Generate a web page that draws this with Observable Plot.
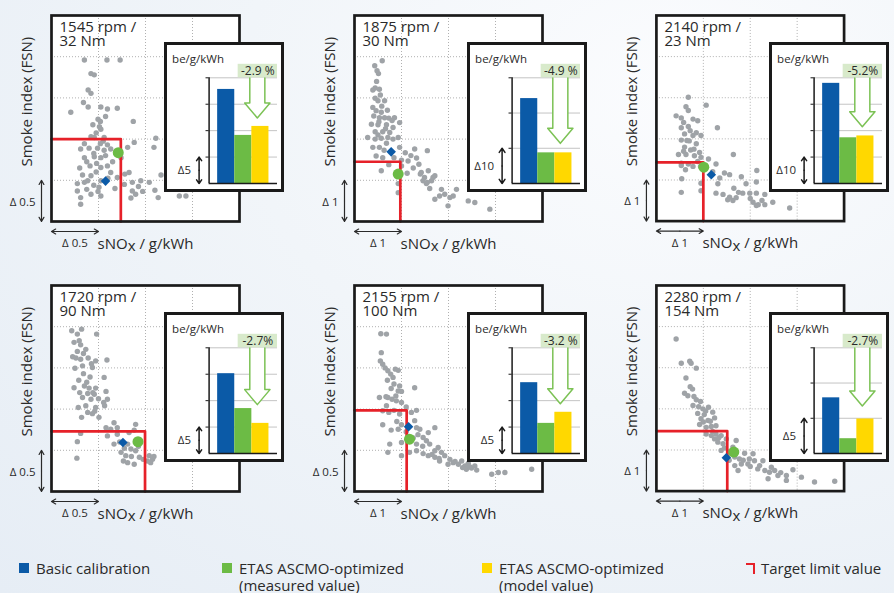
<!DOCTYPE html>
<html>
<head>
<meta charset="utf-8">
<script src="https://cdn.jsdelivr.net/npm/d3@7"></script>
<script src="https://cdn.jsdelivr.net/npm/@observablehq/plot@0.6"></script>
<style>
  html, body { margin: 0; padding: 0; }
  body {
    width: 894px; height: 593px; overflow: hidden; position: relative;
    font-family: "Open Sans", "Noto Sans", sans-serif; color: #2a2a2a;
    background: radial-gradient(ellipse at 75% 15%, #fbfcfe 0%, #f1f5f9 45%, #e6edf5 100%);
  }
  .abs { position: absolute; }
  .inset { position: absolute; box-sizing: border-box; width: 120px; height: 150px;
           border: 3px solid #1a1a1a; background: #fff; }
  .lg { position: absolute; font-size: 15px; line-height: 17px; color: #2a2a2a; white-space: nowrap; }
  .sw { position: absolute; width: 10px; height: 10px; }
</style>
</head>
<body>
<script>
// ---------------- DATA ----------------
// Scatter values are in grid units of each panel (x: 0..4, y: 0..5);
// one grid unit equals the "Δ" value printed beside the axis.
const operatingPoints = ["1545 rpm /\n32 Nm", "1875 rpm /\n30 Nm", "2140 rpm /\n23 Nm",
                         "1720 rpm /\n90 Nm", "2155 rpm /\n100 Nm", "2280 rpm /\n154 Nm"];
const deltaXLabels = ["Δ 0.5", "Δ 1", "Δ 1", "Δ 0.5", "Δ 1", "Δ 1"];
const deltaYLabels = ["Δ 0.5", "Δ 1", "Δ 1", "Δ 0.5", "Δ 0.5", "Δ 1"];

const variants1545 = [[0.70,3.92],[1.18,3.92],[1.46,3.92],[0.84,3.59],[0.91,3.56],[0.78,3.19],[0.84,3.11],[0.41,2.65],[0.68,2.89],[0.78,2.78],[1.05,2.78],[1.19,2.73],[1.40,2.75],[0.99,2.48],[1.04,2.43],[1.74,2.43],[1.05,2.24],[1.02,2.30],[0.84,2.06],[0.70,1.89],[1.04,1.89],[1.19,1.86],[0.98,1.78],[0.80,1.78],[1.12,1.73],[1.26,1.76],[1.76,1.92],[1.62,1.80],[2.22,2.02],[2.18,1.80],[0.70,1.55],[0.91,1.57],[1.05,1.55],[0.96,1.41],[0.82,1.35],[1.19,1.35],[1.05,1.31],[0.66,1.13],[0.84,1.11],[1.56,1.15],[1.65,1.19],[1.40,1.07],[1.72,0.95],[1.90,0.99],[2.08,0.95],[2.33,1.13],[0.55,0.74],[0.75,0.78],[1.01,0.83],[0.99,0.73],[0.62,0.58],[0.84,0.66],[0.62,0.42],[1.05,0.62],[1.72,0.74],[1.79,0.66],[1.69,0.57],[1.94,0.73],[2.20,0.76],[2.27,0.58],[2.72,0.62],[2.86,0.62],[1.05,0.99],[0.55,0.92],[0.77,0.99],[1.26,1.19],[0.62,1.76],[0.91,2.04],[1.48,1.55],[1.12,2.04],
  [0.88,2.35],[1.15,2.55],[0.95,2.15],[1.10,1.95],[0.90,1.65],[1.15,1.60],[0.75,1.45],[1.30,1.45],[0.95,1.20],[1.20,1.05],[0.70,0.95],[0.90,0.88],[1.35,0.80],[0.60,1.30],[1.55,0.90],[1.85,0.85]];
const variants1875 = [[0.59,3.90],[0.43,3.78],[0.48,3.66],[0.51,3.59],[0.44,3.24],[0.53,3.21],[0.39,3.19],[0.55,3.07],[0.44,2.99],[0.50,2.93],[0.64,2.93],[0.39,2.77],[0.46,2.69],[0.57,2.65],[0.41,2.56],[0.53,2.52],[0.64,2.52],[0.73,2.51],[0.85,2.52],[0.96,2.40],[0.36,2.36],[0.50,2.35],[0.68,2.35],[0.82,2.28],[0.44,2.18],[0.60,2.18],[0.75,2.16],[0.28,2.04],[0.44,2.00],[0.57,2.02],[0.71,2.04],[0.93,2.04],[0.39,1.80],[0.53,1.80],[0.63,1.73],[0.96,1.80],[1.08,1.67],[1.28,1.76],[1.55,1.72],[0.46,1.59],[0.60,1.55],[0.84,1.55],[1.00,1.49],[1.14,1.47],[1.32,1.54],[1.37,1.39],[0.73,1.38],[1.00,1.35],[0.57,1.23],[1.12,1.17],[1.42,1.19],[1.57,1.23],[1.71,1.11],[1.49,1.07],[1.64,0.99],[1.53,0.92],[1.46,0.99],[0.93,0.92],[0.93,0.70],[1.85,0.78],[1.92,0.66],[1.81,0.62],[1.71,0.54],[1.99,0.38],[2.17,0.78],[2.42,0.50],[2.56,0.46],[2.88,0.30],[2.03,0.58],[1.67,1.07],
  [0.47,3.40],[0.58,2.80],[0.70,2.70],[0.52,2.42],[0.80,2.45],[0.66,2.25],[0.50,2.10],[0.82,2.00],[0.68,1.90],[1.20,1.60],[1.25,1.30],[1.40,1.15],[1.55,0.95],[1.60,0.80],[2.10,0.62]];
const variants2140 = [[0.68,3.01],[0.63,2.78],[0.68,2.69],[1.06,2.82],[0.42,2.56],[0.53,2.51],[0.78,2.48],[0.88,2.44],[0.53,2.27],[0.68,2.30],[1.30,2.27],[0.60,2.12],[0.78,2.08],[0.95,2.08],[0.53,1.97],[0.65,1.96],[0.85,1.88],[0.60,1.80],[0.73,1.73],[0.92,1.67],[0.47,1.62],[0.63,1.62],[0.81,1.59],[0.95,1.55],[1.64,1.62],[1.11,1.51],[0.53,1.41],[0.68,1.39],[1.27,1.39],[0.53,1.35],[0.78,1.33],[0.94,1.33],[1.45,1.17],[1.56,1.13],[1.81,1.08],[2.14,1.23],[0.54,1.03],[0.95,0.92],[1.31,0.91],[1.91,0.91],[2.13,0.95],[0.95,0.74],[0.53,0.70],[1.27,0.68],[1.42,0.65],[1.56,0.58],[1.52,0.52],[1.70,0.57],[1.84,0.68],[1.99,0.68],[2.13,0.68],[2.31,0.65],[2.06,0.46],[2.17,0.40],[2.31,0.40],[2.48,0.46],[2.13,0.38],[2.84,0.32],[1.63,0.50],
  [0.58,2.40],[0.72,2.20],[0.85,2.15],[0.70,1.95],[0.80,1.75],[0.58,1.70],[0.88,1.45],[0.62,1.25],[1.20,1.20],[1.35,1.05],[1.65,0.80],[1.75,0.70],[2.00,0.55],[2.25,0.50]];
const variants1720 = [[0.43,3.90],[0.55,3.82],[0.64,3.94],[0.96,3.82],[0.48,3.62],[0.59,3.66],[0.62,3.56],[0.73,3.45],[0.45,3.27],[0.52,3.24],[0.62,3.21],[0.78,3.24],[0.94,3.17],[1.18,3.19],[0.50,2.99],[0.66,3.05],[0.87,3.01],[0.68,2.86],[0.82,2.78],[1.12,2.77],[0.48,2.52],[0.70,2.56],[0.80,2.51],[0.94,2.51],[0.77,2.38],[0.91,2.36],[1.16,2.43],[0.66,2.28],[0.84,2.24],[1.11,2.16],[1.19,2.24],[0.57,2.04],[0.73,2.08],[0.94,2.04],[1.13,2.08],[0.77,1.92],[0.87,1.89],[1.01,1.80],[0.64,1.80],[1.33,1.67],[1.16,1.55],[1.26,1.51],[1.40,1.55],[1.79,1.63],[0.62,1.41],[1.19,1.35],[1.40,1.39],[1.65,1.43],[1.76,1.49],[0.55,1.21],[1.33,1.15],[1.62,1.15],[1.69,1.03],[1.79,0.99],[1.48,0.95],[1.58,0.87],[1.87,0.83],[2.08,0.87],[2.15,0.78],[2.04,0.74],[1.53,0.74],[1.62,0.70],[1.76,0.66],[0.54,0.81],[2.11,0.70],
  [0.55,3.40],[0.68,3.35],[0.85,3.10],[0.58,2.70],[0.75,2.65],[0.88,2.40],[0.60,2.40],[1.00,2.25],[0.92,1.95],[1.45,1.20],[1.55,1.05],[1.70,0.85],[1.95,0.78],[2.18,0.85],[1.85,1.10]];
const variants2155 = [[0.56,3.83],[0.68,3.82],[0.57,3.37],[0.55,3.17],[0.60,3.09],[0.71,2.93],[0.87,2.97],[0.93,2.94],[0.77,2.85],[0.82,2.77],[0.70,2.70],[0.84,2.61],[0.96,2.56],[0.93,2.44],[1.00,2.43],[1.28,2.52],[0.53,2.28],[0.71,2.28],[0.80,2.24],[0.89,2.20],[1.00,2.16],[0.68,2.08],[0.60,1.96],[0.73,1.92],[0.84,1.97],[0.96,1.88],[1.21,1.92],[1.32,1.97],[0.60,1.62],[0.78,1.49],[0.93,1.51],[1.00,1.62],[1.28,1.72],[1.32,1.55],[1.39,1.51],[1.57,1.43],[1.71,1.55],[1.35,1.38],[1.46,1.31],[1.53,1.23],[0.75,1.15],[1.00,1.19],[1.32,1.15],[1.60,1.15],[1.78,1.07],[0.71,0.95],[1.17,0.95],[1.32,0.99],[1.46,0.92],[1.57,0.87],[1.71,0.99],[1.85,0.95],[1.92,0.87],[2.03,0.78],[2.14,0.73],[1.99,0.66],[2.21,0.66],[2.28,0.74],[2.35,0.62],[2.42,0.68],[2.49,0.57],[2.38,0.54],[2.56,0.62],[2.92,0.42],[3.06,0.46],[3.20,0.46],[3.77,0.54],[1.71,0.83],[1.81,0.74],[1.00,0.87],
  [0.65,3.00],[0.78,2.50],[0.88,2.32],[0.67,2.30],[1.10,2.05],[0.90,1.70],[1.10,1.45],[1.25,1.30],[1.45,1.10],[1.65,0.90],[1.80,0.80],[2.10,0.70],[2.30,0.58],[2.45,0.60],[2.60,0.52]];
const variants2280 = [[0.42,3.70],[0.53,3.11],[0.71,3.16],[0.74,3.11],[0.85,2.99],[0.63,2.75],[0.72,2.54],[0.77,2.48],[0.60,2.38],[0.67,2.32],[0.85,2.22],[0.94,2.18],[0.78,2.08],[0.99,2.00],[1.11,2.04],[0.88,1.89],[1.02,1.86],[1.20,1.92],[0.95,1.76],[1.10,1.72],[1.24,1.78],[0.92,1.62],[1.06,1.55],[1.17,1.57],[1.27,1.59],[1.06,1.39],[1.17,1.35],[1.27,1.39],[1.38,1.35],[1.24,1.27],[1.31,1.19],[1.42,1.15],[1.49,1.27],[1.70,1.23],[1.63,1.07],[1.38,0.99],[1.52,0.83],[1.67,0.83],[1.77,0.78],[1.81,0.66],[1.67,0.62],[1.74,0.50],[1.95,0.66],[2.06,0.91],[1.98,0.78],[2.09,0.74],[2.27,0.74],[2.16,0.54],[2.31,0.50],[2.41,0.46],[2.52,0.50],[2.59,0.38],[2.38,0.30],[2.77,0.38],[2.77,0.26],[2.91,0.52],[3.09,0.34],[3.37,0.22],[3.80,0.24],[1.56,0.95],[1.88,0.92],
  [0.80,2.30],[0.90,2.05],[1.05,1.95],[1.15,1.70],[1.00,1.68],[1.20,1.45],[1.33,1.30],[1.45,1.05],[1.55,0.75],[1.85,0.75],[2.00,0.60],[2.20,0.62],[2.45,0.58],[2.65,0.45]];
const variantSets = [variants1545, variants1875, variants2140, variants1720, variants2155, variants2280];

const basicCalibration   = [[1.15,0.98],[0.78,1.69],[1.17,1.13],[1.52,1.19],[1.15,1.57],[1.49,0.81]];
const ascmoMeasured      = [[1.42,1.67],[0.93,1.15],[1.01,1.31],[1.84,1.21],[1.17,1.27],[1.65,0.95]];
const targetLimit        = [[1.475,2.00],[0.975,1.45],[1.00,1.43],[1.99,1.46],[1.11,1.97],[1.51,1.46]];

// Inset bar charts: specific fuel consumption be / g/kWh (relative, above the axis base)
const barSeries     = ["Basic calibration", "ETAS ASCMO-optimized (measured value)", "ETAS ASCMO-optimized (model value)"];
const beBasic       = [17.8, 24.1, 37.9, 15.1, 13.4, 7.9];
const beMeasured    = [9.1, 8.7, 17.3, 8.5, 5.7, 2.1];
const beModel       = [10.8, 8.7, 18.0, 5.7, 7.8, 4.9];
const beChange      = ["-2.9 %", "-4.9 %", "-5.2%", "-2.7%", "-3.2 %", "-2.7%"];
const beArrowTip    = [12.4, 11.4, 21.5, 9.25, 9.4, 6.75];
const beStep        = [5, 10, 10, 5, 5, 5];
const beGridCount   = [4, 3, 4, 4, 4, 3];

const legendLabels = ["Basic calibration", "ETAS ASCMO-optimized\n(measured value)",
                      "ETAS ASCMO-optimized\n(model value)", "Target limit value"];

// ---------------- STYLE ----------------
const FONT = '"Open Sans", "Noto Sans", sans-serif';
const TEXT = "#2a2a2a";
const BLUE = "#0b5aa7", GREEN = "#6cbb45", YELLOW = "#ffd800", RED = "#e62129", GRAY = "#9fa3a7";
const ARROW_GREEN = "#7cc255", LABEL_BG = "#d8eacb";
const colX = [0, 302.5, 604.5], rowY = [0, 270];

const X = d => d[0], Y = d => d[1];

function scatterPanel(i) {
  const [tx, ty] = targetLimit[i];
  return Plot.plot({
    width: 290, height: 262,
    marginLeft: 51, marginTop: 15, marginRight: 51, marginBottom: 41,
    x: {domain: [0, 4], axis: null},
    y: {domain: [0, 5], axis: null},
    style: {background: "transparent", overflow: "visible", fontFamily: FONT, color: TEXT},
    marks: [
      Plot.frame({fill: "white", stroke: "none"}),
      Plot.ruleX([1, 2, 3], {stroke: "#b0b0b0", strokeDasharray: "1,2", strokeWidth: 1}),
      Plot.ruleY([1, 2, 3, 4], {stroke: "#b0b0b0", strokeDasharray: "1,2", strokeWidth: 1}),
      Plot.dot(variantSets[i], {x: X, y: Y, r: 2.7, fill: GRAY}),
      Plot.line([[0, ty], [tx, ty], [tx, 0]], {x: X, y: Y, stroke: RED, strokeWidth: 2.7}),
      Plot.dot([basicCalibration[i]], {x: X, y: Y, symbol: "diamond2", r: 4.3, fill: BLUE}),
      Plot.dot([ascmoMeasured[i]], {x: X, y: Y, r: 5.5, fill: GREEN}),
      Plot.frame({stroke: "#1a1a1a", strokeWidth: 2.7}),
      Plot.text([operatingPoints[i]], {frameAnchor: "top-left", dx: 8, dy: 6, lineAnchor: "top",
        textAnchor: "start", fontSize: 15, lineHeight: 0.95, fill: TEXT}),
      // y axis title, placed in data units left of the frame
      Plot.text(["Smoke index (FSN)"], {x: -0.51, y: 2.91, rotate: -90, fontSize: 15, fill: TEXT}),
      Plot.text(["sNOx / g/kWh"], {frameAnchor: "bottom", dy: 27, fontSize: 15, fill: TEXT}),
      // Δ scale arrows
      Plot.arrow([0, 1], {x1: 0.5, x2: d => d, y1: 0, y2: 0, dy: 10, stroke: TEXT, strokeWidth: 1.2,
        headLength: 6, headAngle: 60}),
      Plot.text([deltaXLabels[i]], {x: 0.5, y: 0, dy: 22, fontSize: 11.5, fill: TEXT}),
      Plot.arrow([0, 1], {x1: 0, x2: 0, y1: 0.5, y2: d => d, dx: -10, stroke: TEXT, strokeWidth: 1.2,
        headLength: 6, headAngle: 60}),
      Plot.text([deltaYLabels[i]], {x: 0, y: 0.5, dx: -16, dy: 1, textAnchor: "end", fontSize: 11.5, fill: TEXT})
    ]
  });
}

function insetPanel(i) {
  const step = beStep[i], yMax = step * beGridCount[i];
  const chartH = 105.7;
  const px = v => v * yMax / chartH;
  const bars = [
    {s: barSeries[0], v: beBasic[i], k: 0},
    {s: barSeries[1], v: beMeasured[i], k: 1},
    {s: barSeries[2], v: beModel[i], k: 2}
  ];
  const tip = beArrowTip[i], head = tip + px(15), top = yMax;
  const cx = 2.82, sw = 0.44, hw = 0.74;
  const arrow = [[cx - sw, top], [cx - sw, head], [cx - hw, head], [cx, tip],
                 [cx + hw, head], [cx + sw, head], [cx + sw, top]];
  const ticks = d3.range(1, beGridCount[i] + 1).map(k => k * step);
  return Plot.plot({
    width: 114, height: 144,
    marginLeft: 41.6, marginRight: 4, marginTop: 32.3, marginBottom: 6,
    x: {domain: [0, 4], axis: null},
    y: {domain: [0, yMax], axis: null},
    color: {domain: barSeries, range: [BLUE, GREEN, YELLOW]},
    style: {background: "white", overflow: "visible", fontFamily: FONT, color: TEXT},
    marks: [
      Plot.ruleY(ticks, {stroke: "#c4c4c4", strokeWidth: 1}),
      Plot.ruleY(ticks, {x1: -0.18, x2: 0, stroke: "#1a1a1a", strokeWidth: 1}),
      Plot.rect(bars, {x1: d => d.k + 0.5, x2: d => d.k + 1.5, y1: 0, y2: "v", fill: "s"}),
      Plot.line(arrow, {x: X, y: Y, stroke: ARROW_GREEN, strokeWidth: 1.5, fill: "white"}),
      Plot.rect([0], {x1: 1.7, x2: 4, y1: yMax, y2: yMax + px(13.5), fill: LABEL_BG}),
      Plot.text([beChange[i]], {x: 2.85, y: yMax + px(6.7), fontSize: 12, fill: TEXT}),
      Plot.ruleX([0], {stroke: "#1a1a1a", strokeWidth: 1.5}),
      Plot.ruleY([0], {stroke: "#1a1a1a", strokeWidth: 1.5}),
      Plot.text(["be/g/kWh"], {frameAnchor: "top-left", dx: -37, dy: -23, textAnchor: "start",
        fontSize: 11.5, fill: TEXT}),
      Plot.arrow([0, step], {x1: 0, x2: 0, y1: step / 2, y2: d => d, dx: -10, stroke: "#1a1a1a",
        strokeWidth: 1.5, headLength: 5, headAngle: 70}),
      Plot.text(["Δ" + step], {x: 0, y: step / 2, dx: -18, textAnchor: "end", fontSize: 11.5, fill: TEXT})
    ]
  });
}

for (let i = 0; i < 6; i++) {
  const cx = colX[i % 3], cy = rowY[Math.floor(i / 3)];
  const wrap = document.createElement("div");
  wrap.className = "abs";
  wrap.style.left = cx + "px"; wrap.style.top = cy + "px";
  const svg = scatterPanel(i);
  // sNOx: slightly lowered x
  d3.select(svg).selectAll("text").each(function () {
    if (this.textContent === "sNOx / g/kWh") {
      const t = d3.select(this); t.text(null);
      t.append("tspan").text("sNO");
      t.append("tspan").attr("dy", 2.5).text("x");
      t.append("tspan").attr("dy", -2.5).text(" / g/kWh");
    }
  });
  wrap.appendChild(svg);
  document.body.appendChild(wrap);

  const ins = document.createElement("div");
  ins.className = "inset";
  ins.style.left = (cx + 164.3) + "px"; ins.style.top = (cy + 42) + "px";
  ins.appendChild(insetPanel(i));
  document.body.appendChild(ins);
}

// ---------------- LEGEND ----------------
const legendX = [19, 222, 482, 746];
const legendColors = [BLUE, GREEN, YELLOW, null];
legendLabels.forEach((lab, k) => {
  const sw = document.createElement("div");
  sw.className = "sw";
  sw.style.left = legendX[k] + "px"; sw.style.top = "563px";
  if (legendColors[k]) sw.style.background = legendColors[k];
  else { sw.style.borderTop = "2.5px solid " + RED; sw.style.borderRight = "2.5px solid " + RED;
         sw.style.width = "7px"; sw.style.height = "9px"; }
  document.body.appendChild(sw);
  const t = document.createElement("div");
  t.className = "lg";
  t.style.left = (legendX[k] + (k === 3 ? 15 : 17)) + "px"; t.style.top = "559.5px";
  t.innerText = lab;
  document.body.appendChild(t);
});
</script>
</body>
</html>
